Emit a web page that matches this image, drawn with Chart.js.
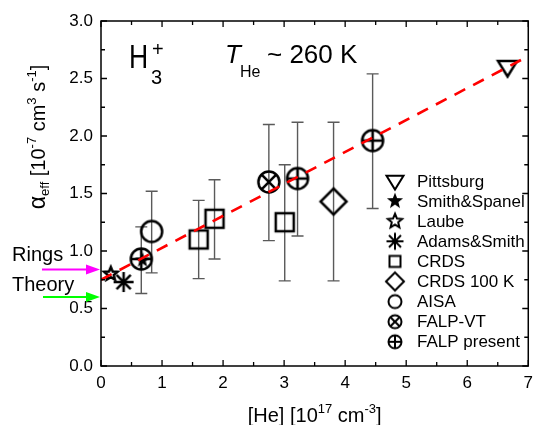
<!DOCTYPE html>
<html>
<head>
<meta charset="utf-8">
<script src="https://cdn.jsdelivr.net/npm/chart.js@4.4.1/dist/chart.umd.min.js"></script>
<style>
  html, body { margin: 0; padding: 0; background: #fff; }
</style>
</head>
<body>
<canvas id="c" width="540" height="425"></canvas>
<script>
// alpha_eff [1e-7 cm^3 s^-1] against [He] [1e17 cm^-3]
const pittsburgX = [6.66], pittsburgY = [2.60];
const smithSpanelX = [0.68], smithSpanelY = [0.92];
const laubeX = [0.16], laubeY = [0.80];
const adamsSmithX = [0.37], adamsSmithY = [0.73];
const crdsX = [1.60, 1.86, 3.01], crdsY = [1.10, 1.28, 1.25];
const crdsLo = [0.76, 0.93, 0.74], crdsHi = [1.44, 1.62, 1.75];
const crds100X = [3.81], crds100Y = [1.43];
const crds100Lo = [0.74], crds100Hi = [2.12];
const aisaX = [0.83], aisaY = [1.17];
const aisaLo = [0.81], aisaHi = [1.52];
const falpVtX = [2.75], falpVtY = [1.60];
const falpVtLo = [1.09], falpVtHi = [2.10];
const falpX = [0.66, 3.22, 4.45], falpY = [0.93, 1.63, 1.96];
const falpLo = [0.63, 1.13, 1.37], falpHi = [1.21, 2.12, 2.54];
const fitX = [0, 6.95], fitY = [0.75, 2.68];
const ringsValue = 0.84, theoryValue = 0.60;

const xTicks = [0, 1, 2, 3, 4, 5, 6, 7];
const yTicks = [0, 0.5, 1.0, 1.5, 2.0, 2.5, 3.0];
const legendNames = ['Pittsburg', 'Smith&Spanel', 'Laube', 'Adams&Smith', 'CRDS',
  'CRDS 100 K', 'AISA', 'FALP-VT', 'FALP present'];

const FONT = '"Liberation Sans", Arial, Helvetica, sans-serif';

function starPath(g, R, r) {
  g.beginPath();
  for (let i = 0; i < 10; i++) {
    const a = -Math.PI / 2 + i * Math.PI / 5;
    const d = i % 2 ? r : R;
    g.lineTo(d * Math.cos(a), d * Math.sin(a));
  }
  g.closePath();
}
function ring(g, s) { g.beginPath(); g.arc(0, 0, s, 0, 2 * Math.PI); g.stroke(); }
function seg(g, x1, y1, x2, y2) { g.beginPath(); g.moveTo(x1, y1); g.lineTo(x2, y2); g.stroke(); }

const shapes = {
  triDown(g, s) {
    g.beginPath(); g.moveTo(-s, -s * 0.62); g.lineTo(s, -s * 0.62); g.lineTo(0, s); g.closePath(); g.stroke();
  },
  starFill(g, s) { starPath(g, s, s * 0.42); g.fill(); },
  starOpen(g, s) { starPath(g, s, s * 0.45); g.stroke(); },
  asterisk(g, s) {
    for (let k = 0; k < 4; k++) {
      const a = k * Math.PI / 4;
      seg(g, -s * Math.cos(a), -s * Math.sin(a), s * Math.cos(a), s * Math.sin(a));
    }
  },
  square(g, s) { g.strokeRect(-s, -s, 2 * s, 2 * s); },
  diamond(g, s) {
    g.beginPath(); g.moveTo(0, -s); g.lineTo(s, 0); g.lineTo(0, s); g.lineTo(-s, 0); g.closePath(); g.stroke();
  },
  circle(g, s) { ring(g, s); },
  circleX(g, s) {
    ring(g, s);
    const d = s * 0.74;
    seg(g, -d, -d, d, d); seg(g, -d, d, d, -d);
  },
  circlePlus(g, s) {
    ring(g, s);
    seg(g, -s, 0, s, 0); seg(g, 0, -s, 0, s);
  }
};

function makeMarker(shape, size, lw) {
  const pad = Math.ceil(size + lw + 2);
  const cv = document.createElement('canvas');
  cv.width = cv.height = 2 * pad;
  const g = cv.getContext('2d');
  g.translate(pad, pad);
  g.lineWidth = lw;
  g.strokeStyle = '#000';
  g.fillStyle = '#000';
  shapes[shape](g, size);
  return cv;
}

// plot marker, legend marker
const markers = [
  ['triDown', 9.5, 8.5],
  ['starFill', 8, 8.5],
  ['starOpen', 7, 7.5],
  ['asterisk', 10, 8.5],
  ['square', 9, 5.5],
  ['diamond', 13, 9],
  ['circle', 10.5, 6.5],
  ['circleX', 10.5, 6.5],
  ['circlePlus', 10.5, 6.5]
].map(([s, p, l]) => ({ plot: makeMarker(s, p, 2.5), legend: makeMarker(s, l, 2) }));

const pts = (xs, ys) => xs.map((x, i) => ({ x: x, y: ys[i] }));

function series(i, xs, ys, lo, hi) {
  return {
    type: 'scatter',
    label: legendNames[i],
    data: pts(xs, ys),
    pointStyle: markers[i].plot,
    pointRadius: 10,
    errLo: lo, errHi: hi
  };
}

const errorBars = {
  id: 'errorBars',
  beforeDatasetsDraw(chart) {
    const g = chart.ctx, xs = chart.scales.x, ys = chart.scales.y;
    g.save();
    g.strokeStyle = '#5a5a5a';
    g.lineWidth = 1.4;
    chart.data.datasets.forEach(ds => {
      if (!ds.errHi) return;
      ds.data.forEach((p, i) => {
        const px = xs.getPixelForValue(p.x);
        const top = ys.getPixelForValue(ds.errHi[i]);
        const bot = ys.getPixelForValue(ds.errLo[i]);
        g.beginPath();
        g.moveTo(px, top); g.lineTo(px, bot);
        g.moveTo(px - 6, top); g.lineTo(px + 6, top);
        g.moveTo(px - 6, bot); g.lineTo(px + 6, bot);
        g.stroke();
      });
    });
    g.restore();
  }
};

// text with sub/superscripts: parts are [text, size, dy, italic]
function richWidth(g, parts) {
  let w = 0;
  parts.forEach(p => { g.font = (p[3] ? 'italic ' : '') + p[1] + 'px ' + FONT; w += g.measureText(p[0]).width; });
  return w;
}
function drawRich(g, parts, x, y, center) {
  let cx = center ? x - richWidth(g, parts) / 2 : x;
  g.textAlign = 'left';
  g.textBaseline = 'alphabetic';
  parts.forEach(p => {
    g.font = (p[3] ? 'italic ' : '') + p[1] + 'px ' + FONT;
    g.fillText(p[0], cx, y + p[2]);
    cx += g.measureText(p[0]).width;
  });
}

function arrow(g, x1, x2, y, color) {
  g.save();
  g.strokeStyle = color; g.fillStyle = color; g.lineWidth = 2;
  g.beginPath(); g.moveTo(x1, y); g.lineTo(x2 - 12, y); g.stroke();
  g.beginPath(); g.moveTo(x2, y); g.lineTo(x2 - 14, y - 5); g.lineTo(x2 - 14, y + 5); g.closePath(); g.fill();
  g.restore();
}

const decor = {
  id: 'decor',
  afterDraw(chart) {
    const g = chart.ctx, a = chart.chartArea;
    const xs = chart.scales.x, ys = chart.scales.y;
    g.save();
    g.strokeStyle = '#000';
    g.fillStyle = '#000';

    // frame and inward ticks on all four sides
    g.lineWidth = 1.5;
    g.strokeRect(a.left, a.top, a.right - a.left, a.bottom - a.top);
    g.lineWidth = 1.3;
    g.beginPath();
    for (let v = 0; v <= 7.001; v += 0.5) {
      const px = xs.getPixelForValue(v);
      const len = Math.abs(v - Math.round(v)) < 1e-6 ? 6 : 4;
      g.moveTo(px, a.bottom); g.lineTo(px, a.bottom - len);
      g.moveTo(px, a.top); g.lineTo(px, a.top + len);
    }
    for (let v = 0; v <= 3.001; v += 0.25) {
      const py = ys.getPixelForValue(v);
      const len = Math.abs(v * 2 - Math.round(v * 2)) < 1e-6 ? 6 : 4;
      g.moveTo(a.left, py); g.lineTo(a.left + len, py);
      g.moveTo(a.right, py); g.lineTo(a.right - len, py);
    }
    g.stroke();

    // axis titles
    drawRich(g, [['[He] [10', 20, 0], ['17', 13, -9], [' cm', 20, 0], ['-3', 13, -9], [']', 20, 0]],
      (a.left + a.right) / 2, 422, true);
    g.save();
    g.translate(45, 137);
    g.rotate(-Math.PI / 2);
    drawRich(g, [['\u03b1', 23, 0], ['eff', 13, 4], [' [10', 20, 0], ['-7', 13, -9], [' cm', 20, 0],
      ['3', 13, -9], [' s', 20, 0], ['-1', 13, -9], [']', 20, 0]], 0, 0, true);
    g.restore();

    // H3+ and temperature
    g.save();
    g.translate(129, 68);
    g.scale(0.78, 1);
    g.font = '34px ' + FONT;
    g.textAlign = 'left';
    g.fillText('H', 0, 0);
    g.restore();
    drawRich(g, [['3', 20, 0]], 151, 84, false);
    drawRich(g, [['+', 20, 0]], 152, 56, false);
    drawRich(g, [['T', 26, 0, true]], 225, 63, false);
    drawRich(g, [['He', 16, 0]], 240, 77, false);
    drawRich(g, [['~ 260 K', 26, 0]], 267, 63, false);

    // legend inside the plot
    g.font = '17px ' + FONT;
    g.textAlign = 'left';
    g.textBaseline = 'middle';
    legendNames.forEach((name, i) => {
      const cy = 181 + i * 20.1;
      const m = markers[i].legend;
      g.drawImage(m, 395 - m.width / 2, cy - m.height / 2);
      g.fillText(name, 417, cy + 1);
    });

    // Rings / Theory markers on the left axis
    g.textBaseline = 'alphabetic';
    g.font = '20px ' + FONT;
    g.fillText('Rings', 12, 261);
    g.fillText('Theory', 12, 291);
    arrow(g, 42, a.left - 1, ys.getPixelForValue(ringsValue), '#ff00ff');
    arrow(g, 43, a.left - 1, ys.getPixelForValue(theoryValue), '#00ff00');
    g.restore();
  }
};

new Chart(document.getElementById('c'), {
  data: {
    datasets: [
      {
        type: 'line',
        label: 'fit',
        data: pts(fitX, fitY),
        borderColor: '#ff0000',
        borderWidth: 2.6,
        borderDash: [12, 9],
        pointRadius: 0,
        fill: false
      },
      series(0, pittsburgX, pittsburgY),
      series(1, smithSpanelX, smithSpanelY),
      series(2, laubeX, laubeY),
      series(3, adamsSmithX, adamsSmithY),
      series(4, crdsX, crdsY, crdsLo, crdsHi),
      series(5, crds100X, crds100Y, crds100Lo, crds100Hi),
      series(6, aisaX, aisaY, aisaLo, aisaHi),
      series(7, falpVtX, falpVtY, falpVtLo, falpVtHi),
      series(8, falpX, falpY, falpLo, falpHi)
    ]
  },
  options: {
    responsive: false,
    animation: false,
    events: [],
    layout: { padding: { top: 21, right: 9, left: 0, bottom: 0 } },
    plugins: { legend: { display: false }, tooltip: { enabled: false } },
    scales: {
      x: {
        type: 'linear',
        min: 0, max: 7,
        afterFit(s) { s.height = 59; },
        afterBuildTicks(s) { s.ticks = xTicks.map(v => ({ value: v })); },
        grid: { display: false, drawTicks: false },
        border: { display: false },
        ticks: { color: '#000', padding: 7, font: { family: FONT, size: 17 } }
      },
      y: {
        type: 'linear',
        min: 0, max: 3,
        afterFit(s) { s.width = 101; },
        afterBuildTicks(s) { s.ticks = yTicks.map(v => ({ value: v })); },
        grid: { display: false, drawTicks: false },
        border: { display: false },
        ticks: { color: '#000', padding: 8, font: { family: FONT, size: 17 }, callback: v => v.toFixed(1) }
      }
    }
  },
  plugins: [errorBars, decor]
});
</script>
</body>
</html>
